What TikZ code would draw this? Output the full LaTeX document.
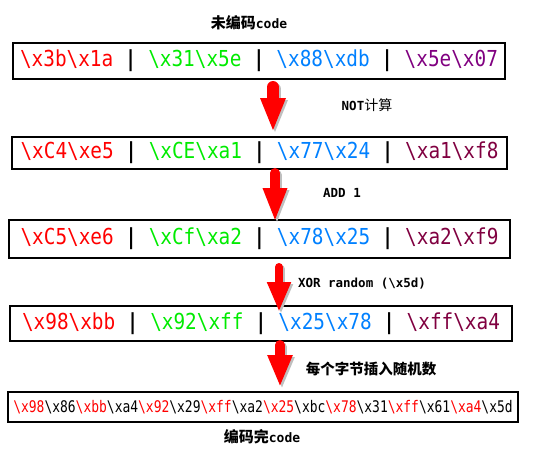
\documentclass[tikz,border=0pt]{standalone}
\usepackage{fontspec}
\usetikzlibrary{arrows.meta}
\newfontfamily\boxfont[FakeStretch=0.88]{DejaVu Sans Mono}
\newfontfamily\smallboxfont[FakeStretch=0.81]{DejaVu Sans Mono}
\newfontfamily\labmono{DejaVu Sans Mono}
\newfontfamily\cjk{Noto Sans CJK SC}
\definecolor{cr}{RGB}{255,0,0}
\definecolor{cg}{RGB}{0,235,0}
\definecolor{cb}{RGB}{0,128,255}
\definecolor{cp}{RGB}{128,0,128}
\definecolor{cm}{RGB}{128,0,64}
\newcommand\hx[1]{\textbackslash x#1}
\newcommand\sepbar{\textcolor{black}{\bfseries|}}
\newcommand\rh[1]{\textcolor{cr}{\hx{#1}}}
\newcommand\kh[1]{\textcolor{black}{\hx{#1}}}
\begin{document}
\begin{tikzpicture}[x=1pt,y=-1pt,
  boxnode/.style={draw=black, line width=2.2pt, inner sep=0pt, anchor=center,
    font=\boxfont\fontsize{22}{24}\selectfont},
  lab/.style={inner sep=0pt, anchor=center},
  redarrow/.style={draw=cr, line cap=round},
  shadowarrow/.style={draw=black!25, line cap=round, transform canvas={xshift=2pt,yshift=-2pt}}
]
\useasboundingbox (0,0) rectangle (554,448);

% boxes
\node[boxnode, minimum width=492pt, minimum height=36pt] (b1) at (259,61)
  {{\color{cr}\hx{3b}\hx{1a}} \sepbar{} {\color{cg}\hx{31}\hx{5e}} \sepbar{} {\color{cb}\hx{88}\hx{db}} \sepbar{} {\color{cp}\hx{5e}\hx{07}}};
\node[boxnode, minimum width=495pt, minimum height=32pt] (b2) at (259.5,153)
  {{\color{cr}\hx{C4}\hx{e5}} \sepbar{} {\color{cg}\hx{CE}\hx{a1}} \sepbar{} {\color{cb}\hx{77}\hx{24}} \sepbar{} {\color{cm}\hx{a1}\hx{f8}}};
\node[boxnode, minimum width=501pt, minimum height=38pt] (b3) at (259.5,239)
  {{\color{cr}\hx{C5}\hx{e6}} \sepbar{} {\color{cg}\hx{Cf}\hx{a2}} \sepbar{} {\color{cb}\hx{78}\hx{25}} \sepbar{} {\color{cm}\hx{a2}\hx{f9}}};
\node[boxnode, minimum width=502pt, minimum height=35pt] (b4) at (261,323.5)
  {{\color{cr}\hx{98}\hx{bb}} \sepbar{} {\color{cg}\hx{92}\hx{ff}} \sepbar{} {\color{cb}\hx{25}\hx{78}} \sepbar{} {\color{cm}\hx{ff}\hx{a4}}};
\node[boxnode, minimum width=510pt, minimum height=30pt, font=\smallboxfont\fontsize{16}{18}\selectfont] (b5) at (263,407)
  {\rh{98}\kh{86}\rh{bb}\kh{a4}\rh{92}\kh{29}\rh{ff}\kh{a2}\rh{25}\kh{bc}\rh{78}\kh{31}\rh{ff}\kh{61}\rh{a4}\kh{5d}};

% labels
\node[lab] (t0) at (249,23) {{\cjk\bfseries\fontsize{15}{16}\selectfont 未编码}{\labmono\bfseries\fontsize{13}{14}\selectfont code}};
\node[lab] (t1) at (367,105) {{\labmono\bfseries\fontsize{12.5}{14}\selectfont NOT}{\cjk\fontsize{14}{15}\selectfont 计算}};
\node[lab] (t2) at (342,193) {\labmono\bfseries\fontsize{12.5}{14}\selectfont ADD 1};
\node[lab] (t3) at (362,284) {\labmono\bfseries\fontsize{12.5}{14}\selectfont XOR random (\textbackslash x5d)};
\node[lab] (t4) at (371,369) {\cjk\bfseries\fontsize{14.5}{16}\selectfont 每个字节插入随机数};
\node[lab] (t5) at (262,437) {{\cjk\bfseries\fontsize{15}{16}\selectfont 编码完}{\labmono\bfseries\fontsize{13}{14}\selectfont code}};

% arrow end points
\coordinate (a1s) at (273,87);  \coordinate (a1e) at (273,132);
\coordinate (a2s) at (275,173); \coordinate (a2e) at (275,222);
\coordinate (a3s) at (279,267); \coordinate (a3e) at (279,312);
\coordinate (a4s) at (280,345); \coordinate (a4e) at (280,387);

% shadows
\draw[shadowarrow, line width=12pt, -{Triangle[width=23pt,length=34pt]}] (a1s) -- (a1e);
\draw[shadowarrow, line width=10pt, -{Triangle[width=22pt,length=34pt]}] (a2s) -- (a2e);
\draw[shadowarrow, line width=8pt,  -{Triangle[width=22pt,length=30pt]}] (a3s) -- (a3e);
\draw[shadowarrow, line width=10pt, -{Triangle[width=23pt,length=32pt]}] (a4s) -- (a4e);
% arrows
\draw[redarrow, line width=12pt, -{Triangle[width=23pt,length=34pt]}] (a1s) -- (a1e);
\draw[redarrow, line width=10pt, -{Triangle[width=22pt,length=34pt]}] (a2s) -- (a2e);
\draw[redarrow, line width=8pt,  -{Triangle[width=22pt,length=30pt]}] (a3s) -- (a3e);
\draw[redarrow, line width=10pt, -{Triangle[width=23pt,length=32pt]}] (a4s) -- (a4e);
\end{tikzpicture}
\end{document}
